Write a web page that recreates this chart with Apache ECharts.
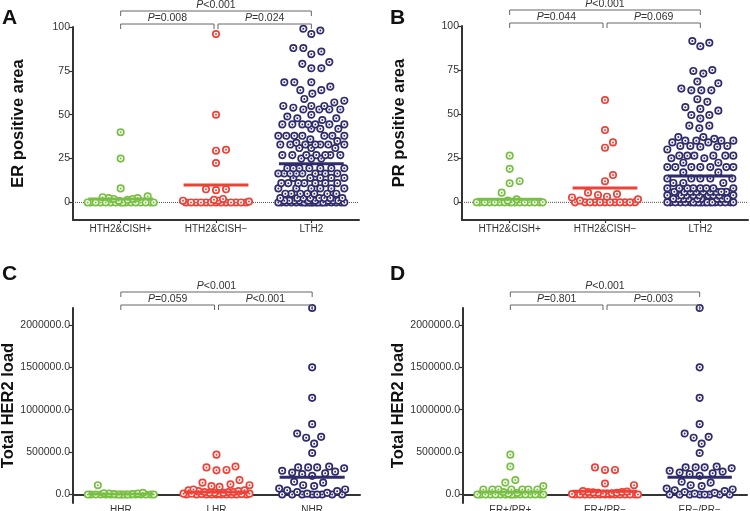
<!DOCTYPE html>
<html>
<head>
<meta charset="utf-8">
<script src="https://cdn.jsdelivr.net/npm/echarts@6/dist/echarts.min.js"></script>
<style>html,body{margin:0;padding:0;background:#fff}#c{width:750px;height:511px}</style>
</head>
<body>
<div id="c"></div>
<script>
// ---------- DATA ----------
const categoriesTH2 = ['HTH2&CISH+', 'HTH2&CISH\u2212', 'LTH2'];
const categoriesHR = ['HHR', 'LHR', 'NHR'];
const categoriesERPR = ['ER+/PR+', 'ER+/PR\u2212', 'ER\u2212/PR\u2212'];

const erTickValues = [0, 25, 50, 75, 100];
const loadTickValues = [0, 500000, 1000000, 1500000, 2000000];

// Panel A: ER positive area
const erHTH2CishPos = [40, 25, 8, 3.5, 3, 2.5, 2.5, 2, 2, 1.5, 1, 0, 0, 0, 0, 0, 0, 0, 0, 0, 0, 0, 0, 0, 0, 0, 0];
const erHTH2CishNeg = [96, 50, 30, 29.5, 22.5, 7.5, 7, 7.5, 2, 1.5, 1, 1, 0.5, 0, 0, 0, 0, 0, 0, 0, 0, 0, 0, 0, 0, 0];
const erLTH2 = [99, 96, 98, 88, 86, 84.5, 88, 80, 79, 76.5, 76.5, 68.5, 68.5, 66, 68.5, 64, 64, 62, 59, 58, 57, 55, 55, 55, 54, 53, 53, 53, 53, 50, 49, 48, 48, 47,
  44.5, 44.5, 44.5, 44.5, 44.5, 44.5, 44.5, 42, 42, 42, 38, 38, 38, 38, 38, 38, 38, 36, 35, 34, 33, 33, 33, 33, 33, 33, 33, 31, 31, 31,
  27, 27, 27, 27, 27, 27, 27, 25, 25, 25, 19.5, 19.5, 19.5, 19.5, 19.5, 19.5, 19.5, 16.5, 16.5, 16.5, 16.5, 16.5, 16.5, 16.5, 16.5,
  14, 14, 14, 14, 14, 11, 11, 11, 11, 11, 11, 11, 8, 8, 8, 8, 8, 8, 5, 5, 5, 5, 5, 5, 5, 2.5, 2.5, 2.5, 2.5, 2.5, 2.5, 2.5, 2.5,
  1, 1, 1, 1, 1, 1, 1, 1, 1, 1, 0, 0, 0, 0, 0, 0, 0, 0, 0, 0, 0, 0, 0, 0, 0, 0, 0, 0, 0, 0];
const erMeans = [2, 10, 22];
const erPValues = ['P<0.001', 'P=0.008', 'P=0.024'];

// Panel B: PR positive area
const prHTH2CishPos = [26.5, 19, 12, 10.8, 5.5, 1.7, 1, 0, 0, 0, 0, 0, 0, 0, 0, 0, 0, 0, 0, 0, 0, 0, 0];
const prHTH2CishNeg = [58, 41, 34, 31, 15.5, 12, 5.5, 4.7, 4.2, 3.2, 2.8, 1.7, 1, 0, 0, 0, 0, 0, 0, 0, 0, 0, 0, 0, 0];
const prLTH2 = [91.5, 88.5, 90.5, 75, 73, 74.5, 67.5, 68.5, 64.5, 63.5, 63.5, 63.5, 58.5, 57, 54, 53, 52, 49.5, 49.5, 47.5, 43.5, 43.5, 42,
  37, 37, 36, 35, 35, 35, 35, 34, 34, 32, 32, 32, 31.5, 31.5, 30, 26.5, 26.5, 26.5, 26.5, 26.5, 26.5, 25, 25, 22.5, 22.5,
  20, 20, 20, 20, 20, 20, 20, 17, 17, 13.5, 13.5, 13.5, 13.5, 13.5, 11, 11, 11, 8, 8, 8, 8, 8, 8, 8, 8,
  6, 6, 6, 6, 6, 6, 6, 6, 6, 4, 4, 4, 4, 4, 4, 4, 4, 4, 2, 2, 2, 2, 2, 2, 2, 2, 2,
  0, 0, 0, 0, 0, 0, 0, 0, 0, 0, 0, 0, 0, 0, 0, 0, 0, 0, 0, 0];
const prMeans = [1.8, 8.2, 15];
const prPValues = ['P<0.001', 'P=0.044', 'P=0.069'];

// Panel C: Total HER2 load by HR group
const loadHHR = [110000, 20000, 15000, 10000, 10000, 5000, 5000, 0, 0, 0, 0, 0, 0, 0, 0, 0, 0, 0, 0, 0, 0, 0, 0, 0, 0];
const loadLHR = [470000, 330000, 320000, 290000, 285000, 170000, 140000, 120000, 110000, 100000, 90000, 60000, 50000, 50000, 40000, 40000,
  30000, 30000, 30000, 20000, 20000, 20000, 10000, 10000, 10000, 10000, 5000, 5000, 0, 0, 0, 0, 0, 0, 0, 0, 0, 0];
const loadNHR = [2200000, 1500000, 1140000, 830000, 720000, 680000, 670000, 600000, 490000, 330000, 320000, 320000, 320000, 310000, 280000,
  270000, 260000, 250000, 240000, 220000, 150000, 140000, 110000, 100000, 70000, 60000, 50000, 40000, 30000, 20000, 10000,
  0, 0, 0, 0, 0, 0, 0, 0];
const loadHRMeans = [5000, 30000, 205000];
const loadHRPValues = ['P<0.001', 'P=0.059', 'P<0.001'];

// Panel D: Total HER2 load by ER/PR status
const loadERposPRpos = [470000, 330000, 170000, 140000, 100000, 60000, 60000, 60000, 60000, 60000, 60000, 60000, 30000, 20000, 10000,
  0, 0, 0, 0, 0, 0, 0, 0, 0, 0, 0, 0, 0, 0, 0, 0];
const loadERposPRneg = [320000, 290000, 290000, 130000, 110000, 40000, 35000, 30000, 30000, 25000, 20000, 20000, 15000, 10000, 10000, 5000,
  0, 0, 0, 0, 0, 0, 0, 0, 0, 0, 0, 0, 0, 0];
const loadERnegPRneg = [2200000, 1500000, 1140000, 830000, 720000, 680000, 670000, 600000, 490000, 330000, 320000, 320000, 320000, 310000, 280000,
  270000, 260000, 250000, 240000, 220000, 150000, 140000, 110000, 100000, 70000, 60000, 50000, 40000, 30000, 20000, 10000,
  0, 0, 0, 0, 0, 0, 0, 0];
const loadERPRMeans = [30000, 40000, 205000];
const loadERPRPValues = ['P<0.001', 'P=0.801', 'P=0.003'];

// ---------- STYLE / LAYOUT ----------
const groupColors = ['#79bf45', '#ee4137', '#2f2b6c'];
const FONT = '"Liberation Sans", Arial, sans-serif';

const panels = [
  { letter: 'A', letterPos: [2, 8], grid: { left: 73, top: 27, width: 286, height: 193 }, yMin: -10, yMax: 100,
    ticks: erTickValues, fmt: v => String(v), name: 'ER positive area', nameGap: 46, labelMargin: 4,
    cats: categoriesTH2, groups: [erHTH2CishPos, erHTH2CishNeg, erLTH2], means: erMeans, pv: erPValues, onZero: false, zeroLine: true },
  { letter: 'B', letterPos: [390, 8], grid: { left: 462, top: 26, width: 286, height: 194 }, yMin: -10, yMax: 100,
    ticks: erTickValues, fmt: v => String(v), name: 'PR positive area', nameGap: 54, labelMargin: 4,
    cats: categoriesTH2, groups: [prHTH2CishPos, prHTH2CishNeg, prLTH2], means: prMeans, pv: prPValues, onZero: false, zeroLine: true },
  { letter: 'C', letterPos: [2, 264], grid: { left: 73, top: 308, width: 287, height: 195 }, yMin: -100000, yMax: 2200000,
    ticks: loadTickValues, fmt: v => v.toFixed(1), name: 'Total HER2 load', nameGap: 54, labelMargin: 2,
    cats: categoriesHR, groups: [loadHHR, loadLHR, loadNHR], means: loadHRMeans, pv: loadHRPValues, onZero: true, zeroLine: false },
  { letter: 'D', letterPos: [390, 264], grid: { left: 463, top: 308, width: 284, height: 195 }, yMin: -100000, yMax: 2200000,
    ticks: loadTickValues, fmt: v => v.toFixed(1), name: 'Total HER2 load', nameGap: 55, labelMargin: 2,
    cats: categoriesERPR, groups: [loadERposPRpos, loadERposPRneg, loadERnegPRneg], means: loadERPRMeans, pv: loadERPRPValues, onZero: true, zeroLine: false }
];

// deterministic beeswarm layout (pixel space) -> data-space x offsets
function swarm(values, cat, grid, yMin, yMax) {
  const pxX = grid.width / 3, pxY = grid.height / (yMax - yMin);
  const d = 9.5, maxHalf = 33;
  const sorted = values.slice().sort((a, b) => a - b);
  const placed = [], out = [];
  for (const v of sorted) {
    const y = v * pxY;
    let bestX = 0, bestScore = -1;
    for (let k = 0; k <= maxHalf * 2; k++) {
      const x = (k % 2 === 1 ? 1 : -1) * Math.ceil(k / 2);
      let minD = Infinity;
      for (const q of placed) {
        const dy = q[1] - y;
        if (Math.abs(dy) >= d) continue;
        const dd = Math.hypot(q[0] - x, dy);
        if (dd < minD) minD = dd;
      }
      if (minD >= d) { bestX = x; bestScore = Infinity; break; }
      if (minD > bestScore + 0.01) { bestScore = minD; bestX = x; }
    }
    placed.push([bestX, y]);
    out.push([cat + bestX / pxX, v]);
  }
  return out;
}

const grids = [], xAxes = [], yAxes = [], series = [], graphics = [];
panels.forEach((P, gi) => {
  grids.push(Object.assign({ outerBoundsMode: 'none', containLabel: false }, P.grid));
  xAxes.push({
    gridIndex: gi, type: 'value', min: -0.5, max: 2.5,
    axisLine: { show: true, onZero: P.onZero, lineStyle: { color: '#333', width: 2 } },
    axisTick: { show: true, length: 3, customValues: [0, 1, 2], lineStyle: { color: '#333', width: 1.2 } },
    axisLabel: { customValues: [0, 1, 2], formatter: v => P.cats[Math.round(v)], fontSize: 10, color: '#333', margin: P.labelMargin, fontFamily: FONT },
    splitLine: { show: false }
  });
  yAxes.push({
    gridIndex: gi, type: 'value', min: P.yMin, max: P.yMax,
    name: P.name, nameLocation: 'middle', nameGap: P.nameGap, nameRotate: 90,
    nameTextStyle: { fontFamily: FONT, fontWeight: 'bold', fontSize: 16.5, color: '#111' },
    axisLine: { show: true, onZero: false, lineStyle: { color: '#333', width: 2 } },
    axisTick: { show: true, length: 4, customValues: P.ticks, lineStyle: { color: '#333', width: 1.2 } },
    axisLabel: { customValues: P.ticks, formatter: P.fmt, fontSize: 10.5, color: '#333', margin: 3, fontFamily: FONT },
    splitLine: { show: false }
  });
  if (P.zeroLine) {
    series.push({
      type: 'line', xAxisIndex: gi, yAxisIndex: gi, data: [[-0.5, 0], [2.5, 0]], symbol: 'none', silent: true, z: 1,
      lineStyle: { type: 'dotted', color: '#555', width: 1 }
    });
  }
  P.groups.forEach((vals, ci) => {
    const color = groupColors[ci];
    series.push({
      type: 'custom', xAxisIndex: gi, yAxisIndex: gi, z: 2, silent: true,
      data: swarm(vals, ci, P.grid, P.yMin, P.yMax),
      renderItem: (params, api) => {
        const p = api.coord([api.value(0), api.value(1)]);
        return { type: 'group', children: [
          { type: 'circle', shape: { cx: p[0], cy: p[1], r: 3.2 }, style: { fill: '#fff', stroke: color, lineWidth: 1.7 } },
          { type: 'circle', shape: { cx: p[0], cy: p[1], r: 1 }, style: { fill: color } }
        ] };
      }
    });
  });
  // mean lines
  series.push({
    type: 'custom', xAxisIndex: gi, yAxisIndex: gi, z: 3, silent: true,
    data: P.means.map((m, i) => [i, m]),
    renderItem: (params, api) => {
      const a = api.coord([api.value(0) - 0.34, api.value(1)]);
      const b = api.coord([api.value(0) + 0.34, api.value(1)]);
      return { type: 'line', shape: { x1: a[0], y1: a[1], x2: b[0], y2: b[1] }, style: { stroke: groupColors[params.dataIndex], lineWidth: 3 } };
    }
  });
  // significance brackets
  const spans = [[0, 2], [0, 1], [1, 2]];
  const levels = [0, 1, 1];
  const insets = [[0, 0], [0, -2], [2, 0]];
  series.push({
    type: 'custom', xAxisIndex: gi, yAxisIndex: gi, z: 3, silent: true, clip: false,
    data: spans.map(s => [s[0], P.yMax, s[1]]),
    renderItem: (params, api) => {
      const i = params.dataIndex;
      const pa = api.coord([api.value(0), api.value(1)]);
      const pb = api.coord([api.value(2), api.value(1)]);
      const top = pa[1];
      const xa = pa[0] + insets[i][0], xb = pb[0] + insets[i][1];
      const yl = levels[i] === 0 ? top - 16 : top - 3;
      const yt = levels[i] === 0 ? top - 22 : top - 9;
      const txt = P.pv[i];
      return { type: 'group', children: [
        { type: 'polyline', shape: { points: [[xa, yl + 5], [xa, yl], [xb, yl], [xb, yl + 5]] }, style: { stroke: '#666', lineWidth: 1, fill: null } },
        { type: 'text', style: { x: (xa + xb) / 2, y: yt, text: '{i|P}' + txt.slice(1), align: 'center', verticalAlign: 'middle',
          fontSize: 10.5, fontFamily: FONT, fill: '#333', rich: { i: { fontStyle: 'italic', fontSize: 10.5, fontFamily: FONT, fill: '#333' } } } }
      ] };
    }
  });
  graphics.push({ type: 'text', left: P.letterPos[0], top: P.letterPos[1],
    style: { text: P.letter, font: 'bold 21px ' + FONT, fill: '#111' } });
});

const chart = echarts.init(document.getElementById('c'), null, { renderer: 'canvas' });
chart.setOption({
  animation: false,
  backgroundColor: '#fff',
  grid: grids, xAxis: xAxes, yAxis: yAxes, series: series, graphic: graphics
});
</script>
</body>
</html>
